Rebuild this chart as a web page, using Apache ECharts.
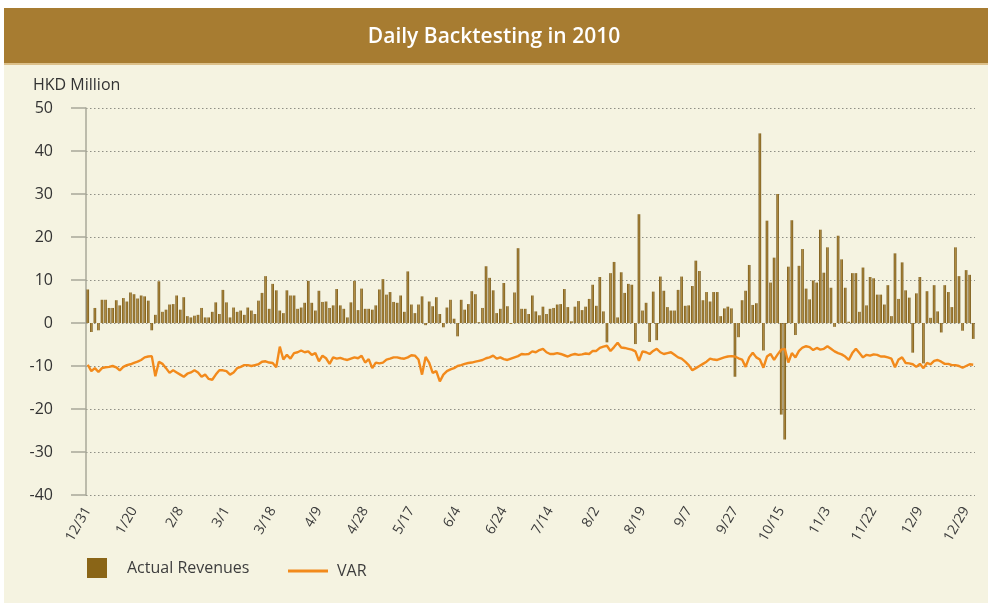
<!DOCTYPE html>
<html>
<head>
<meta charset="utf-8">
<title>Daily Backtesting in 2010</title>
<script src="https://cdn.jsdelivr.net/npm/echarts@6/dist/echarts.min.js"></script>
<style>
  html, body { margin: 0; padding: 0; background: #fff; }
  #chart { width: 988px; height: 603px; }
</style>
</head>
<body>
<div id="chart"></div>
<script>
// x axis labels, one every 13 trading days
const tickLabels = ['12/31', '1/20', '2/8', '3/1', '3/18', '4/9', '4/28', '5/17', '6/4', '6/24',
  '7/14', '8/2', '8/19', '9/7', '9/27', '10/15', '11/3', '11/22', '12/9', '12/29'];
const tickEvery = 13;

// Actual Revenues (HKD Million), daily
const revenue = [
  7.8, -2.1, 3.5, -1.7, 5.4, 5.4, 3.5, 3.5, 5.3, 4.1,
  5.8, 5.0, 7.1, 6.7, 5.7, 6.4, 6.2, 5.2, -1.7, 1.9,
  9.7, 2.6, 3.1, 4.3, 4.4, 6.4, 3.1, 6.0, 1.6, 1.3,
  1.7, 1.9, 3.5, 1.3, 1.3, 2.6, 4.8, 2.1, 7.7, 4.8,
  1.3, 3.6, 2.6, 2.9, 1.9, 3.6, 2.9, 2.1, 5.2, 7.0,
  10.9, 3.3, 9.1, 7.6, 2.9, 2.3, 7.6, 6.4, 6.4, 3.3,
  3.6, 4.7, 9.8, 4.7, 2.9, 7.5, 4.9, 5.0, 3.5, 4.1,
  7.9, 4.1, 3.3, 1.3, 4.8, 9.8, 3.0, 8.0, 3.3, 3.3,
  3.1, 4.1, 7.8, 10.2, 6.6, 7.2, 4.9, 4.7, 6.4, 2.6,
  12.0, 4.3, 2.3, 4.3, 6.2, -0.5, 5.0, 3.9, 6.0, 2.1,
  -1.0, 3.6, 5.4, 1.0, -3.1, 5.4, 3.1, 4.4, 7.4, 6.7,
  0.2, 3.5, 13.2, 10.5, 7.6, 2.3, 3.3, 9.3, 3.9, -0.2,
  7.1, 17.4, 3.3, 3.3, 2.1, 6.4, 2.7, 1.8, 3.8, 2.1,
  3.3, 3.5, 4.3, 4.4, 7.9, 3.7, 0.4, 3.8, 5.1, 3.0,
  3.8, 5.6, 8.9, 4.0, 10.7, 2.7, -4.5, 11.6, 14.2, 1.3,
  11.8, 7.0, 9.1, 8.9, -4.9, 25.3, 2.9, 4.7, -4.4, 7.3,
  -4.0, 10.8, 7.5, 3.7, 2.9, 2.9, 7.7, 10.8, 4.0, 4.1,
  8.6, 14.5, 12.1, 5.3, 7.2, 5.0, 7.2, 7.2, 1.6, 3.4,
  3.8, 3.4, -12.5, -3.3, 5.3, 7.5, 13.5, 4.2, 4.6, 44.1,
  -6.4, 23.8, 9.4, 15.2, 30.0, -21.3, -27.1, 13.1, 23.9, -2.8,
  13.3, 17.2, 8.0, 5.5, 9.9, 9.4, 21.7, 11.7, 17.6, 8.2,
  -0.9, 20.3, 14.8, 8.2, 0.3, 11.6, 11.6, 2.6, 12.9, 4.1,
  10.7, 10.4, 6.6, 6.6, 4.3, 8.8, 1.6, 16.2, 5.6, 14.1,
  7.6, 5.9, -6.9, 6.9, 10.7, -9.4, 7.4, 1.2, 8.8, 2.7,
  -2.2, 8.8, 7.2, 3.7, 17.6, 10.9, -1.8, 12.3, 11.2, -3.7
];

// VAR (HKD Million), daily
const varData = [
  -9.7, -11.2, -10.5, -11.4, -10.5, -10.3, -10.2, -10.0, -10.3, -11.0,
  -10.2, -9.8, -9.6, -9.3, -9.0, -8.6, -8.0, -7.8, -7.7, -12.4,
  -9.0, -9.5, -10.5, -11.6, -11.0, -11.5, -12.0, -12.5, -11.8, -11.5,
  -11.0, -11.5, -12.5, -12.0, -13.0, -13.2, -12.0, -11.0, -11.0, -11.2,
  -12.0, -11.5, -10.5, -10.2, -9.8, -9.8, -10.0, -9.8, -9.6, -9.0,
  -8.9, -9.2, -9.3, -10.3, -5.5, -8.5, -7.4, -8.3, -7.0, -6.8,
  -6.4, -6.8, -6.6, -7.4, -7.0, -8.9, -7.6, -8.2, -9.5, -8.0,
  -8.3, -8.1, -8.4, -8.6, -8.3, -8.0, -8.2, -7.6, -9.2, -8.4,
  -10.5, -9.2, -9.4, -9.2, -8.5, -8.3, -8.0, -8.0, -8.2, -8.3,
  -8.0, -7.5, -7.6, -8.5, -12.0, -7.9, -9.2, -11.6, -11.2, -13.6,
  -12.0, -11.2, -10.8, -10.5, -10.0, -9.8, -9.5, -9.3, -9.2, -9.0,
  -8.8, -8.6, -8.2, -8.0, -7.6, -8.3, -8.0, -8.4, -8.6, -8.3,
  -8.0, -7.7, -7.2, -7.3, -7.2, -6.6, -6.8, -6.3, -6.0, -6.8,
  -7.2, -7.2, -7.0, -7.2, -7.5, -7.8, -7.4, -7.2, -7.4, -7.3,
  -7.1, -7.2, -6.5, -6.5, -5.8, -5.5, -5.3, -6.5, -5.6, -4.6,
  -5.7, -5.8, -6.0, -6.2, -6.6, -8.8, -6.6, -6.8, -7.2, -6.5,
  -6.0, -6.8, -7.2, -7.0, -6.8, -7.4, -8.0, -8.3, -9.0, -9.8,
  -11.0, -10.5, -10.0, -9.5, -9.0, -8.3, -8.5, -8.6, -8.3, -8.0,
  -7.8, -7.7, -7.8, -8.2, -8.5, -10.2, -8.0, -6.9, -8.0, -8.5,
  -10.4, -7.8, -7.2, -8.6, -7.3, -6.2, -6.0, -9.2, -7.0, -8.0,
  -6.5, -5.7, -5.4, -5.6, -6.3, -5.8, -6.2, -6.0, -5.4, -6.0,
  -6.6, -7.0, -7.3, -7.8, -8.6, -7.0, -6.0, -7.0, -8.0, -7.4,
  -7.6, -7.3, -7.4, -7.8, -7.8, -8.0, -8.3, -10.3, -8.5, -8.0,
  -9.3, -9.4, -9.6, -10.2, -9.5, -10.5, -9.3, -9.6, -8.8, -8.6,
  -9.0, -9.5, -9.5, -9.8, -9.8, -10.0, -10.4, -10.0, -9.6, -9.7
];

// one category per trading day
const days = revenue.map((v, i) => i);

const font = '"Open Sans", "Noto Sans", sans-serif';
const chart = echarts.init(document.getElementById('chart'), null, { renderer: 'canvas' });

const option = {
  backgroundColor: '#ffffff',
  animation: false,
  graphic: [
    // cream panel
    { type: 'rect', left: 4, top: 8, shape: { width: 984, height: 595 }, style: { fill: '#F5F3E1' }, z: -10 },
    // title banner
    { type: 'rect', left: 4, top: 8, shape: { width: 984, height: 55 }, style: { fill: '#A77C31' }, z: -5 },
    { type: 'rect', left: 4, top: 63, shape: { width: 984, height: 2 }, style: { fill: '#DCC08A' }, z: -5 },
    {
      type: 'text', left: 'center', top: 27,
      style: { text: 'Daily Backtesting in 2010', fill: '#ffffff', font: '600 21px ' + font }
    },
    {
      type: 'text', left: 33, top: 77,
      style: { text: 'HKD Million', fill: '#333333', font: '16px ' + font }
    }
  ],
  legend: [
    {
      left: 82, top: 553,
      itemWidth: 20, itemHeight: 20,
      textStyle: { fontFamily: font, fontSize: 16, color: '#3d3d3d', padding: [3, 0, 0, 15] },
      data: [{ name: 'Actual Revenues', icon: 'rect', itemStyle: { color: '#8A6517' } }]
    },
    {
      left: 283, top: 558,
      itemWidth: 40, itemHeight: 3,
      textStyle: { fontFamily: font, fontSize: 16, color: '#3d3d3d', padding: [0, 0, 0, 4] },
      data: [{ name: 'VAR', icon: 'rect', itemStyle: { color: '#F28A1C' } }]
    }
  ],
  grid: { left: 86, right: 13, top: 108, bottom: 108, containLabel: false },
  xAxis: {
    type: 'category',
    data: days,
    boundaryGap: true,
    axisLine: { show: false },
    axisTick: { show: false },
    axisLabel: {
      interval: tickEvery - 1,
      rotate: 60,
      margin: 13,
      fontFamily: font,
      fontSize: 14,
      color: '#3d3d3d',
      formatter: (v, i) => tickLabels[i / tickEvery] || ''
    }
  },
  yAxis: {
    type: 'value',
    min: -40, max: 50, interval: 10,
    axisLine: { show: true, lineStyle: { color: '#a8a899', width: 1.5 } },
    axisTick: { show: true, inside: false, length: 15, lineStyle: { color: '#a8a899', width: 1.5 } },
    axisLabel: { margin: 33, fontFamily: font, fontSize: 16, color: '#333333' },
    splitLine: { show: true, lineStyle: { color: '#8f8f85', type: [1.5, 2.5], width: 1 } }
  },
  series: [
    {
      name: 'Actual Revenues',
      type: 'bar',
      data: revenue,
      barWidth: 2.6,
      itemStyle: {
        color: new echarts.graphic.LinearGradient(0, 0, 1, 0, [
          { offset: 0, color: '#6B4E12' },
          { offset: 0.5, color: '#B38E42' },
          { offset: 1, color: '#6B4E12' }
        ])
      }
    },
    {
      name: 'VAR',
      type: 'line',
      data: varData,
      symbol: 'none',
      lineStyle: { color: '#F28A1C', width: 2.4 },
      itemStyle: { color: '#F28A1C' },
      z: 3
    }
  ]
};

chart.setOption(option);
</script>
</body>
</html>
